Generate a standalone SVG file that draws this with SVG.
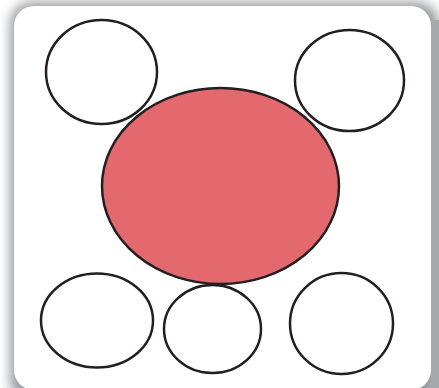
<svg xmlns="http://www.w3.org/2000/svg" width="439" height="388" viewBox="0 0 439 388">
<defs>
<style>
.n{fill:#ffffff;stroke:#231f20;stroke-width:2.5}
.c{fill:#e3696e;stroke:#231f20;stroke-width:2.5}
</style>
<filter id="sh" x="-10%" y="-10%" width="120%" height="120%">
<feGaussianBlur stdDeviation="6"/>
</filter>
</defs>
<rect x="0" y="0" width="439" height="388" fill="#ffffff"/>
<rect x="10" y="2" width="429" height="400" rx="22" fill="#9a9b9e" filter="url(#sh)"/>
<rect x="431" y="20" width="8" height="368" fill="#a7a8ab"/>
<rect x="14" y="6" width="417" height="384" rx="20" fill="#ffffff"/>
<g id="node-top-left"><ellipse class="n" cx="101.5" cy="72" rx="55.5" ry="52"/></g>
<g id="node-top-right"><ellipse class="n" cx="349.5" cy="80.5" rx="54.5" ry="50.5"/></g>
<g id="node-center"><ellipse class="c" cx="220.5" cy="186" rx="118.5" ry="98"/></g>
<g id="node-bottom-left"><ellipse class="n" cx="97" cy="320.5" rx="56" ry="47"/></g>
<g id="node-bottom-middle"><ellipse class="n" cx="212.5" cy="329" rx="48.5" ry="44"/></g>
<g id="node-bottom-right"><ellipse class="n" cx="341.5" cy="323.5" rx="51.5" ry="50.5"/></g>
<g id="connectors"></g>
</svg>
